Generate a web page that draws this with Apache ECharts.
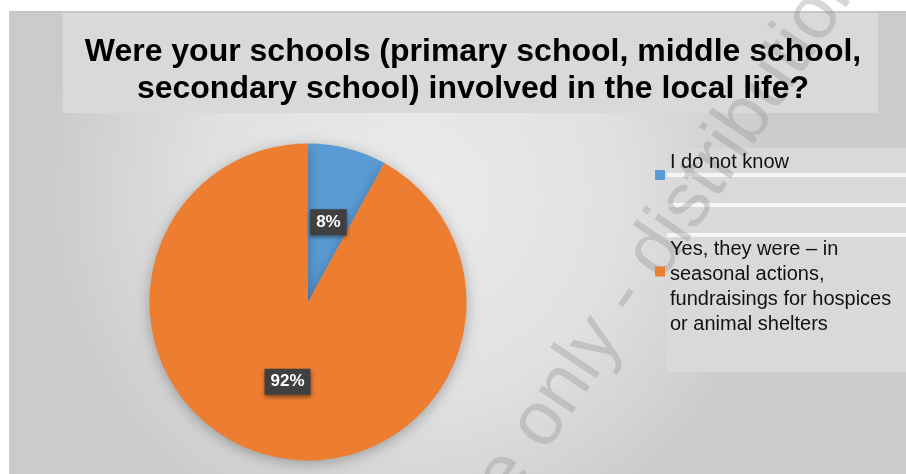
<!DOCTYPE html>
<html>
<head>
<meta charset="utf-8">
<script src="https://cdn.jsdelivr.net/npm/echarts@6/dist/echarts.min.js"></script>
<style>
  html, body { margin: 0; padding: 0; background: #ffffff; }
  #chart { width: 906px; height: 474px; }
</style>
</head>
<body>
<div id="chart"></div>
<script>
// Survey answers and their shares (percent)
const categories = [
  'I do not know',
  'Yes, they were \u2013 in\nseasonal actions,\nfundraisings for hospices\nor animal shelters'
];
const shares = [8, 92];
const sliceColors = ['#5b9bd5', '#ed7d31'];
const titleText = 'Were your schools (primary school, middle school,\nsecondary school) involved in the local life?';
const watermarkText = 'use only - distribution';

const chart = echarts.init(document.getElementById('chart'), null, { renderer: 'canvas' });

const legendText = {
  fontFamily: 'Liberation Sans, Arial, sans-serif',
  fontSize: 20,
  lineHeight: 25,
  color: '#111111',
  rich: {
    below: { lineHeight: 26, fontSize: 20 },
    above: { lineHeight: 31, fontSize: 20 }
  }
};

const option = {
  animation: false,
  backgroundColor: '#ffffff',
  title: {
    text: titleText,
    left: 473,
    top: 34,
    padding: 0,
    textAlign: 'center',
    textStyle: {
      fontFamily: 'Liberation Sans, Arial, sans-serif',
      fontSize: 32,
      fontWeight: 'bold',
      lineHeight: 37,
      color: '#000000'
    }
  },
  legend: [
    {
      // label sits above its marker
      data: [categories[0]],
      formatter: name => name + '\n{below| }',
      left: 655,
      top: 149.5,
      padding: 0,
      orient: 'vertical',
      icon: 'rect',
      itemWidth: 10,
      itemHeight: 10,
      selectedMode: false,
      textStyle: legendText
    },
    {
      // marker sits beside the second line
      data: [categories[1]],
      formatter: name => '{above| }\n' + name,
      left: 655,
      top: 206,
      padding: 0,
      orient: 'vertical',
      icon: 'rect',
      itemWidth: 10,
      itemHeight: 10,
      selectedMode: false,
      textStyle: legendText
    }
  ],
  graphic: [
    // chart area with soft radial shading
    {
      type: 'rect', z: -10, silent: true,
      shape: { x: 9, y: 12, width: 897, height: 462 },
      style: {
        fill: new echarts.graphic.RadialGradient(0.45, 0.4, 0.8, [
          { offset: 0, color: '#ebebeb' },
          { offset: 0.55, color: '#e1e1e1' },
          { offset: 1, color: '#cbcbcb' }
        ])
      }
    },
    {
      type: 'rect', z: -9, silent: true,
      shape: { x: 9, y: 11, width: 897, height: 2 },
      style: { fill: '#c6c6c6' }
    },
    // title panel
    {
      type: 'rect', z: -8, silent: true,
      shape: { x: 63, y: 13, width: 815, height: 100 },
      style: { fill: '#d9d9d9' }
    },
    // legend panel with separators
    {
      type: 'rect', z: -8, silent: true,
      shape: { x: 667, y: 148, width: 239, height: 224 },
      style: { fill: '#d9d9d9' }
    },
    {
      type: 'rect', z: -7, silent: true,
      shape: { x: 667, y: 173, width: 239, height: 4 },
      style: { fill: '#f6f6f6' }
    },
    {
      type: 'rect', z: -7, silent: true,
      shape: { x: 667, y: 203, width: 239, height: 4 },
      style: { fill: '#f6f6f6' }
    },
    {
      type: 'rect', z: -7, silent: true,
      shape: { x: 667, y: 233, width: 239, height: 4 },
      style: { fill: '#f6f6f6' }
    },
    // diagonal watermark
    {
      type: 'text', z: -5, silent: true,
      x: 448, y: 560,
      rotation: 56 * Math.PI / 180,
      style: {
        text: watermarkText,
        fontFamily: 'Liberation Sans, Arial, sans-serif',
        fontSize: 76,
        fill: 'rgba(150,150,150,0.38)',
        textAlign: 'left',
        textVerticalAlign: 'middle'
      }
    }
  ],
  series: [
    {
      type: 'pie',
      center: [308, 302],
      radius: 158.5,
      startAngle: 90,
      clockwise: true,
      color: sliceColors,
      itemStyle: {
        borderWidth: 0,
        shadowBlur: 14,
        shadowColor: 'rgba(0,0,0,0.28)',
        shadowOffsetY: 3
      },
      label: {
        show: true,
        position: 'inside',
        formatter: '{c}%',
        color: '#ffffff',
        fontFamily: 'Liberation Sans, Arial, sans-serif',
        fontWeight: 'bold',
        fontSize: 17,
        backgroundColor: '#404040',
        padding: [5, 6, 4, 6],
        shadowBlur: 4,
        shadowColor: 'rgba(0,0,0,0.45)',
        shadowOffsetY: 2
      },
      labelLine: { show: false },
      emphasis: { disabled: true },
      data: categories.map((name, i) => ({ name: name, value: shares[i] }))
    }
  ]
};

chart.setOption(option);
</script>
</body>
</html>
